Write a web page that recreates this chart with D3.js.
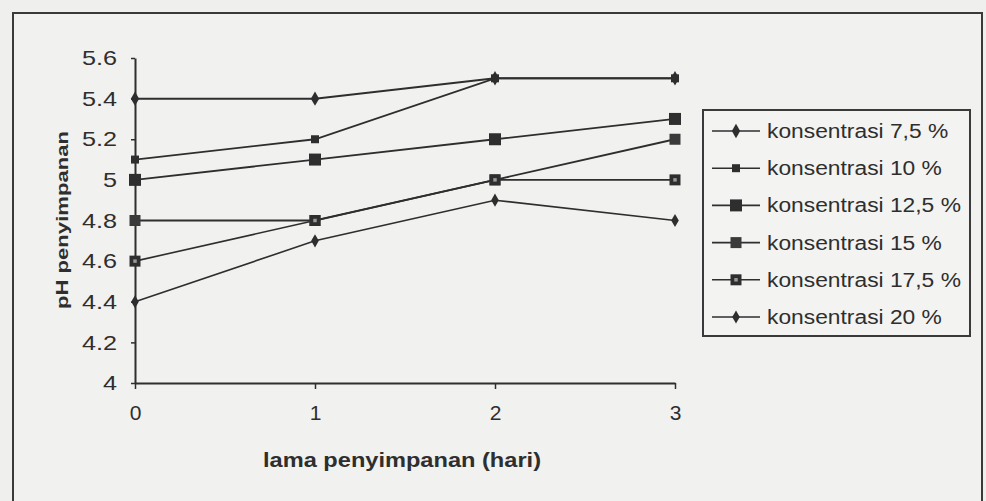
<!DOCTYPE html>
<html>
<head>
<meta charset="utf-8">
<script src="https://cdn.jsdelivr.net/npm/d3@7"></script>
<style>
  html, body { margin: 0; padding: 0; background: #efefed; }
  svg { display: block; }
  text { font-family: "Liberation Sans", Arial, sans-serif; fill: #2e2e2e; }
</style>
</head>
<body>
<svg id="chart" width="986" height="501"></svg>
<script>
const days = [0, 1, 2, 3];
const yTicks = [4, 4.2, 4.4, 4.6, 4.8, 5, 5.2, 5.4, 5.6];
const seriesNames = ["konsentrasi 7,5 %", "konsentrasi 10 %", "konsentrasi 12,5 %", "konsentrasi 15 %", "konsentrasi 17,5 %", "konsentrasi 20 %"];
const s75  = [5.4, 5.4, 5.5, 5.5];
const s10  = [5.1, 5.2, 5.5, 5.5];
const s125 = [5.0, 5.1, 5.2, 5.3];
const s15  = [4.8, 4.8, 5.0, 5.2];
const s175 = [4.6, 4.8, 5.0, 5.0];
const s20  = [4.4, 4.7, 4.9, 4.8];
const seriesValues = [s75, s10, s125, s15, s175, s20];
const markerTypes = ["diamond", "smallsq", "bigsq", "midsq", "hollowsq", "smalldiamond"];
const xTitle = "lama penyimpanan (hari)";
const yTitle = "pH penyimpanan";

const svg = d3.select("#chart");
const ink = "#2e2e2e";

function widen(sel, factor) {
  sel.each(function () {
    const w = this.getComputedTextLength();
    d3.select(this).attr("textLength", w * factor).attr("lengthAdjust", "spacingAndGlyphs");
  });
}

// outer frame
svg.append("rect").attr("x", 13).attr("y", 13).attr("width", 969).attr("height", 520)
  .attr("fill", "#f1f1ef").attr("stroke", "#3a3a3a").attr("stroke-width", 2);

const x = d3.scaleLinear().domain([0, 3]).range([135, 675]);
const y = d3.scaleLinear().domain([4, 5.6]).range([383, 58]);

// y axis
const yAxis = d3.axisLeft(y).tickValues(yTicks).tickSize(4).tickSizeOuter(0)
  .tickFormat(d => String(+d.toFixed(1)));
const gy = svg.append("g").attr("transform", "translate(135,0)").call(yAxis);
gy.select(".domain").attr("stroke", ink).attr("stroke-width", 2);
gy.selectAll(".tick line").attr("stroke", ink).attr("stroke-width", 1.5);
gy.selectAll(".tick text").attr("font-size", 21).attr("x", -18).attr("fill", "#333")
  .style("font-family", "'Liberation Sans', Arial, sans-serif");
widen(gy.selectAll(".tick text"), 1.2);

// x axis
const xAxis = d3.axisBottom(x).tickValues(days).tickSize(6).tickSizeOuter(0).tickFormat(d3.format("d"));
const gx = svg.append("g").attr("transform", "translate(0,383)").call(xAxis);
gx.select(".domain").attr("stroke", ink).attr("stroke-width", 2);
gx.selectAll(".tick line").attr("stroke", ink).attr("stroke-width", 1.5);
gx.selectAll(".tick text").attr("font-size", 21).attr("y", 22).attr("fill", "#333")
  .style("font-family", "'Liberation Sans', Arial, sans-serif");

// axis titles
svg.append("text").attr("x", 402).attr("y", 467).attr("text-anchor", "middle")
  .attr("font-size", 20).attr("font-weight", "bold")
  .attr("textLength", 278).attr("lengthAdjust", "spacingAndGlyphs").text(xTitle);
svg.append("text").attr("transform", "translate(68,220) rotate(-90)").attr("text-anchor", "middle")
  .attr("font-size", 17).attr("font-weight", "bold")
  .attr("textLength", 178).attr("lengthAdjust", "spacingAndGlyphs").text(yTitle);

function drawMarker(g, type, cx, cy) {
  if (type === "diamond" || type === "smalldiamond") {
    const s = type === "diamond" ? 60 : 50;
    g.append("path").attr("d", d3.symbol(d3.symbolDiamond, s)())
      .attr("transform", `translate(${cx},${cy})`).attr("fill", ink);
  } else if (type === "smallsq") {
    g.append("path").attr("d", d3.symbol(d3.symbolSquare, 64)())
      .attr("transform", `translate(${cx},${cy})`).attr("fill", ink);
  } else if (type === "bigsq") {
    g.append("path").attr("d", d3.symbol(d3.symbolSquare, 144)())
      .attr("transform", `translate(${cx},${cy})`).attr("fill", ink);
  } else if (type === "midsq") {
    g.append("path").attr("d", d3.symbol(d3.symbolSquare, 121)())
      .attr("transform", `translate(${cx},${cy})`).attr("fill", "#3a3a3a");
  } else if (type === "hollowsq") {
    g.append("path").attr("d", d3.symbol(d3.symbolSquare, 121)())
      .attr("transform", `translate(${cx},${cy})`).attr("fill", ink);
    g.append("path").attr("d", d3.symbol(d3.symbolSquare, 12)())
      .attr("transform", `translate(${cx},${cy})`).attr("fill", "#9a9a9a");
  }
}

const line = d3.line().x((d, i) => x(days[i])).y(d => y(d));
const lineWidths = [2, 1.8, 1.8, 1.8, 1.6, 1.6];

seriesValues.forEach((vals, k) => {
  svg.append("path").datum(vals).attr("d", line).attr("fill", "none")
    .attr("stroke", ink).attr("stroke-width", lineWidths[k]);
});
seriesValues.forEach((vals, k) => {
  const g = svg.append("g");
  vals.forEach((v, i) => drawMarker(g, markerTypes[k], x(days[i]), y(v)));
});

// legend
const lg = svg.append("g");
lg.append("rect").attr("x", 703).attr("y", 110).attr("width", 267).attr("height", 226)
  .attr("fill", "#f3f3f1").attr("stroke", "#3a3a3a").attr("stroke-width", 2);
const legendY = d3.scalePoint().domain(seriesNames).range([131, 317]);
seriesNames.forEach((name, k) => {
  const yy = legendY(name);
  lg.append("line").attr("x1", 712).attr("x2", 760).attr("y1", yy).attr("y2", yy)
    .attr("stroke", ink).attr("stroke-width", 1.6);
  drawMarker(lg, markerTypes[k], 736, yy);
  const t = lg.append("text").attr("x", 767).attr("y", yy + 7).attr("font-size", 20)
    .attr("fill", "#333").text(name);
  widen(t, 1.14);
});
</script>
</body>
</html>
